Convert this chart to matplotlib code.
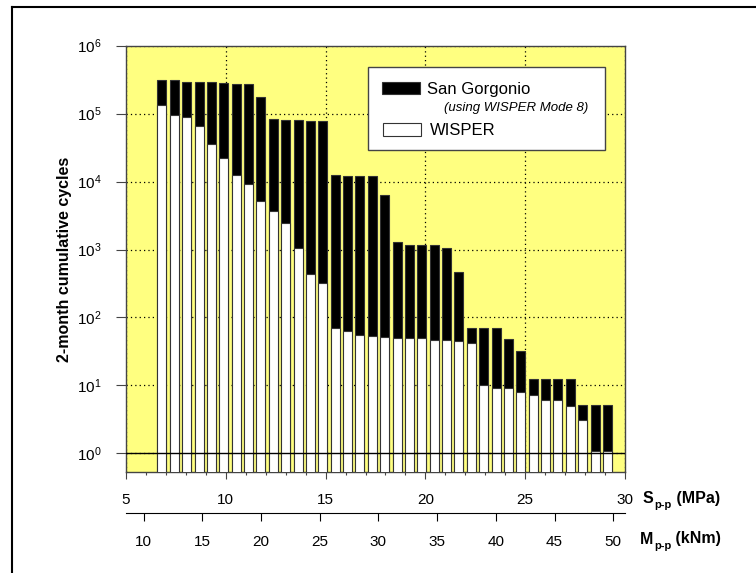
import matplotlib.pyplot as plt
from matplotlib.patches import Rectangle
from matplotlib.lines import Line2D
from matplotlib.ticker import NullLocator

plt.rcParams['font.family'] = ['Liberation Sans', 'DejaVu Sans']
plt.rcParams['mathtext.fontset'] = 'custom'
plt.rcParams['mathtext.rm'] = 'Liberation Sans'
plt.rcParams['mathtext.it'] = 'Liberation Sans:italic'
plt.rcParams['mathtext.bf'] = 'Liberation Sans:bold'

# bin centres, stress range S_p-p (MPa)
s_pp = [6.80, 7.42, 8.04, 8.66, 9.28, 9.90, 10.52, 11.14, 11.76, 12.38,
        13.00, 13.62, 14.24, 14.86, 15.48, 16.10, 16.72, 17.34, 17.96, 18.58,
        19.20, 19.82, 20.44, 21.06, 21.68, 22.30, 22.92, 23.54, 24.16, 24.78,
        25.40, 26.02, 26.64, 27.26, 27.88, 28.50, 29.12]

# 2-month cumulative cycles
san_gorgonio = [3.14e5, 3.14e5, 2.95e5, 2.89e5, 2.89e5, 2.83e5, 2.76e5, 2.70e5, 1.76e5, 8.4e4,
                8.06e4, 8.06e4, 7.9e4, 7.9e4, 1.25e4, 1.22e4, 1.22e4, 1.22e4, 6.3e3, 1.29e3,
                1.17e3, 1.17e3, 1.17e3, 1.05e3, 462, 69, 69, 69, 48, 32,
                12.3, 12.3, 12.3, 12.3, 5.0, 5.0, 5.0]
wisper = [1.33e5, 9.66e4, 9.0e4, 6.65e4, 3.54e4, 2.2e4, 1.26e4, 9.3e3, 5.2e3, 3.7e3,
          2.48e3, 1.04e3, 432, 321, 69, 64, 55, 53, 52, 50,
          50, 49, 47, 47, 45, 42, 9.9, 9.1, 9.1, 7.9,
          7.0, 6.0, 6.0, 4.9, 3.0, 1.0, 1.0]

s_ticks = [5, 10, 15, 20, 25, 30]
m_ticks = [10, 15, 20, 25, 30, 35, 40, 45, 50]
y_ticks = [1e0, 1e1, 1e2, 1e3, 1e4, 1e5, 1e6]
m_per_s = 1.7  # kNm per MPa

W, H = 756, 573
fig = plt.figure(figsize=(W / 100, H / 100), dpi=100)


def fx(x):
    return x / W


def fy(y):
    return 1 - y / H


ax = fig.add_axes([fx(126), fy(472), fx(625) - fx(126), fy(45.7) - fy(472)])
ax.set_facecolor('#ffff80')
ax.set_yscale('log')
ax.set_xlim(5, 30)
ax.set_ylim(0.531, 1e6)

ax.bar(s_pp, san_gorgonio, width=0.45, bottom=0.1, color='black',
       edgecolor='#333333', linewidth=0.8, zorder=2)
ax.bar(s_pp, wisper, width=0.45, bottom=0.1, color='white',
       edgecolor='#333333', linewidth=0.8, zorder=3)
ax.axhline(1, color='black', lw=1, zorder=4)

ax.set_axisbelow(True)
ax.grid(True, which='major', color='black', linestyle=(0, (1, 2.5)), linewidth=0.9)

ax.set_yticks(y_ticks)
ax.yaxis.set_minor_locator(NullLocator())
ax.set_xticks(s_ticks)
ax.set_xticks(range(5, 31), minor=True)

for sp in ax.spines.values():
    sp.set_color('#444444')
    sp.set_linewidth(1.0)
ax.tick_params(axis='y', direction='out', length=7.5, width=0.8, color='#444444',
               pad=10, labelsize=11)
ax.tick_params(axis='x', which='major', direction='out', length=5, width=0.8,
               color='#444444', pad=10, labelsize=11)
ax.tick_params(axis='x', which='minor', direction='out', length=2.5, width=0.8,
               color='#444444')

# second scale: bending moment range
sec = ax.secondary_xaxis(-0.0955, functions=(lambda s: s * m_per_s, lambda m: m / m_per_s))
sec.set_xticks(m_ticks)
sec.xaxis.set_minor_locator(NullLocator())
sec.tick_params(direction='out', length=6, width=0.8, pad=10, labelsize=11)

fig.text(fx(65), fy(259), '2-month cumulative cycles', rotation=90, ha='center',
         va='center', fontsize=11.5, fontweight='bold')

# axis titles with subscripts
for label, unit, x0, y0 in [('S', ' (MPa)', 643, 498.7), ('M', ' (kNm)', 640, 539)]:
    t1 = fig.text(fx(x0), fy(y0), label, ha='left', va='center', fontsize=11.5,
                  fontweight='bold')
    t2 = ax.annotate('p-p', xy=(1, 0.05), xycoords=t1, xytext=(0.5, 0),
                     textcoords='offset points', ha='left', va='center',
                     fontsize=8, fontweight='bold', annotation_clip=False)
    ax.annotate(unit, xy=(1, 0.5), xycoords=(t2, t1), ha='left', va='center',
                fontsize=11.5, fontweight='bold', annotation_clip=False)

# legend box
fig.add_artist(Rectangle((fx(368), fy(150)), fx(605) - fx(368), fy(66.7) - fy(150),
                         transform=fig.transFigure, facecolor='white',
                         edgecolor='#444444', linewidth=1, zorder=5))
fig.add_artist(Rectangle((fx(382), fy(94.3)), fx(420) - fx(382), fy(82.3) - fy(94.3),
                         transform=fig.transFigure, facecolor='black',
                         edgecolor='#333333', linewidth=0.8, zorder=6))
fig.add_artist(Rectangle((fx(383), fy(136)), fx(421) - fx(383), fy(123) - fy(136),
                         transform=fig.transFigure, facecolor='white',
                         edgecolor='#333333', linewidth=0.8, zorder=6))
fig.text(fx(427), fy(89.2), 'San Gorgonio', ha='left', va='center', fontsize=12, zorder=7)
fig.text(fx(443.7), fy(107.5), '(using WISPER Mode 8)', ha='left', va='center',
         fontsize=9.5, style='italic', zorder=7)
fig.text(fx(430), fy(130.2), 'WISPER', ha='left', va='center', fontsize=12, zorder=7)

# outer frame (left and top edges visible)
fig.add_artist(Line2D([fx(12), fx(12)], [fy(7), 0], transform=fig.transFigure,
                      color='black', linewidth=1.5))
fig.add_artist(Line2D([fx(12), 1], [fy(7), fy(7)], transform=fig.transFigure,
                      color='black', linewidth=1.5))

fig.savefig('out.png', dpi=100)
